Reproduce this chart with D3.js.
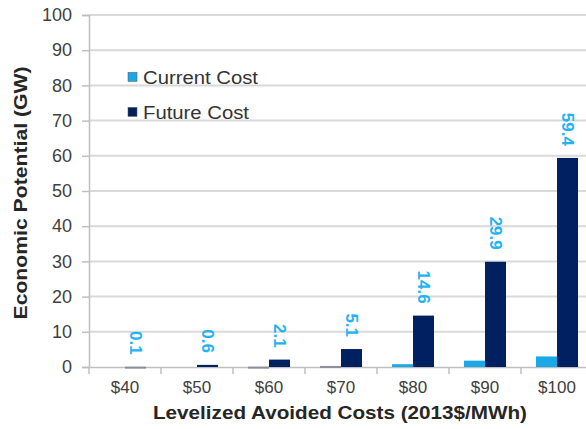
<!DOCTYPE html>
<html>
<head>
<meta charset="utf-8">
<script src="https://cdn.jsdelivr.net/npm/d3@7"></script>
<style>
  body { margin: 0; background: #fff; }
  text { font-family: "Liberation Sans", Arial, sans-serif; }
</style>
</head>
<body>
<svg id="drawing_region"></svg>
<script>
const categories = ["$40", "$50", "$60", "$70", "$80", "$90", "$100"];
const currentCost = [0, 0, 0.1, 0.3, 0.8, 1.8, 3.0];
const futureCost = [0.1, 0.6, 2.1, 5.1, 14.6, 29.9, 59.4];
const seriesNames = ["Current Cost", "Future Cost"];
const yTicks = [0, 10, 20, 30, 40, 50, 60, 70, 80, 90, 100];

const W = 586, H = 429;
const margin = {top: 15, right: -7, bottom: 62, left: 89};

const svg = d3.select('#drawing_region')
    .attr('width', W)
    .attr('height', H);

const innerW = W - margin.left - margin.right;
const innerH = H - margin.top - margin.bottom;

const g = svg.append('g')
    .attr('transform', `translate(${margin.left}, ${margin.top})`);

const x0 = d3.scaleBand()
    .domain(categories)
    .range([0, innerW])
    .paddingInner(0)
    .paddingOuter(0);

const x1 = d3.scaleBand()
    .domain(seriesNames)
    .range([15, x0.bandwidth() - 15]);

const y = d3.scaleLinear()
    .domain([0, 100])
    .range([innerH, 0]);

const color = d3.scaleOrdinal()
    .domain(seriesNames)
    .range(["#1aa9e6", "#002060"]);

// gridlines
g.selectAll('.grid')
    .data(yTicks.filter(d => d > 0))
    .enter()
    .append('line')
    .attr('x1', 0)
    .attr('x2', W)
    .attr('y1', d => y(d))
    .attr('y2', d => y(d))
    .attr('stroke', '#d9d9d9')
    .attr('stroke-width', 2);

// y axis
const yAxis = g.append('g')
    .call(d3.axisLeft(y).tickValues(yTicks).tickSize(7).tickPadding(10));
yAxis.select('.domain').attr('stroke', '#bfbfbf').attr('stroke-width', 1.5);
yAxis.selectAll('.tick line').attr('stroke', '#bfbfbf').attr('stroke-width', 1.5);
yAxis.selectAll('.tick text')
    .attr('font-size', 18)
    .attr('fill', '#404040')
    .attr('font-family', '"Liberation Sans", Arial, sans-serif');

// x axis
const xAxis = g.append('g')
    .attr('transform', `translate(0, ${innerH})`)
    .call(d3.axisBottom(x0).tickSize(0).tickPadding(14));
xAxis.select('.domain').attr('stroke', '#bfbfbf').attr('stroke-width', 1.5);
xAxis.selectAll('.tick text')
    .attr('font-size', 17)
    .attr('fill', '#404040')
    .attr('font-family', '"Liberation Sans", Arial, sans-serif');

// category separator ticks
g.selectAll('.sep')
    .data(categories)
    .enter()
    .append('line')
    .attr('x1', d => x0(d))
    .attr('x2', d => x0(d))
    .attr('y1', innerH)
    .attr('y2', innerH + 7)
    .attr('stroke', '#bfbfbf')
    .attr('stroke-width', 1.5);

// bars
const rows = categories.map((c, i) => ({cat: c, values: [
    {name: seriesNames[0], value: currentCost[i]},
    {name: seriesNames[1], value: futureCost[i]}
]}));

const groups = g.selectAll('.cat')
    .data(rows)
    .enter()
    .append('g')
    .attr('transform', d => `translate(${x0(d.cat)}, 0)`);

groups.selectAll('rect')
    .data(d => d.values)
    .enter()
    .append('rect')
    .attr('x', d => x1(d.name))
    .attr('width', x1.bandwidth())
    .attr('y', d => y(d.value))
    .attr('height', d => Math.max(innerH - y(d.value), d.value > 0 ? 2 : 0))
    .attr('fill', d => d.value < 0.5 ? '#8a8f99' : color(d.name));

// value labels (rotated)
groups.append('text')
    .attr('transform', d => {
        const cx = x1(seriesNames[1]) + x1.bandwidth() / 2;
        const yy = y(d.values[1].value) - 12;
        return `translate(${cx}, ${yy}) rotate(90)`;
    })
    .attr('text-anchor', 'end')
    .attr('dy', '0.35em')
    .attr('font-size', 17)
    .attr('font-weight', 'bold')
    .attr('fill', '#22b3f0')
    .text(d => d.values[1].value);

// legend
const legendWidths = [115, 106];
const legend = g.append('g')
    .attr('transform', `translate(39, 0)`);
seriesNames.forEach((name, i) => {
    const ly = y(80) - 8 + i * 35;
    legend.append('rect')
        .attr('x', 0)
        .attr('y', ly - 5)
        .attr('width', 9)
        .attr('height', 9)
        .attr('fill', color(name))
        .attr('stroke', '#555')
        .attr('stroke-width', 0.5);
    legend.append('text')
        .attr('x', 15)
        .attr('y', ly)
        .attr('dy', '0.35em')
        .attr('font-size', 18)
        .attr('fill', '#333')
        .attr('textLength', legendWidths[i])
        .attr('lengthAdjust', 'spacingAndGlyphs')
        .text(name);
});

// axis titles
svg.append('text')
    .attr('transform', `translate(27, 193) rotate(-90)`)
    .attr('text-anchor', 'middle')
    .attr('font-size', 18)
    .attr('font-weight', 'bold')
    .attr('fill', '#262626')
    .attr('textLength', 253)
    .attr('lengthAdjust', 'spacingAndGlyphs')
    .text('Economic Potential (GW)');

svg.append('text')
    .attr('x', 340)
    .attr('y', 419)
    .attr('text-anchor', 'middle')
    .attr('font-size', 18)
    .attr('font-weight', 'bold')
    .attr('fill', '#262626')
    .attr('textLength', 374)
    .attr('lengthAdjust', 'spacingAndGlyphs')
    .text('Levelized Avoided Costs (2013$/MWh)');
</script>
</body>
</html>
